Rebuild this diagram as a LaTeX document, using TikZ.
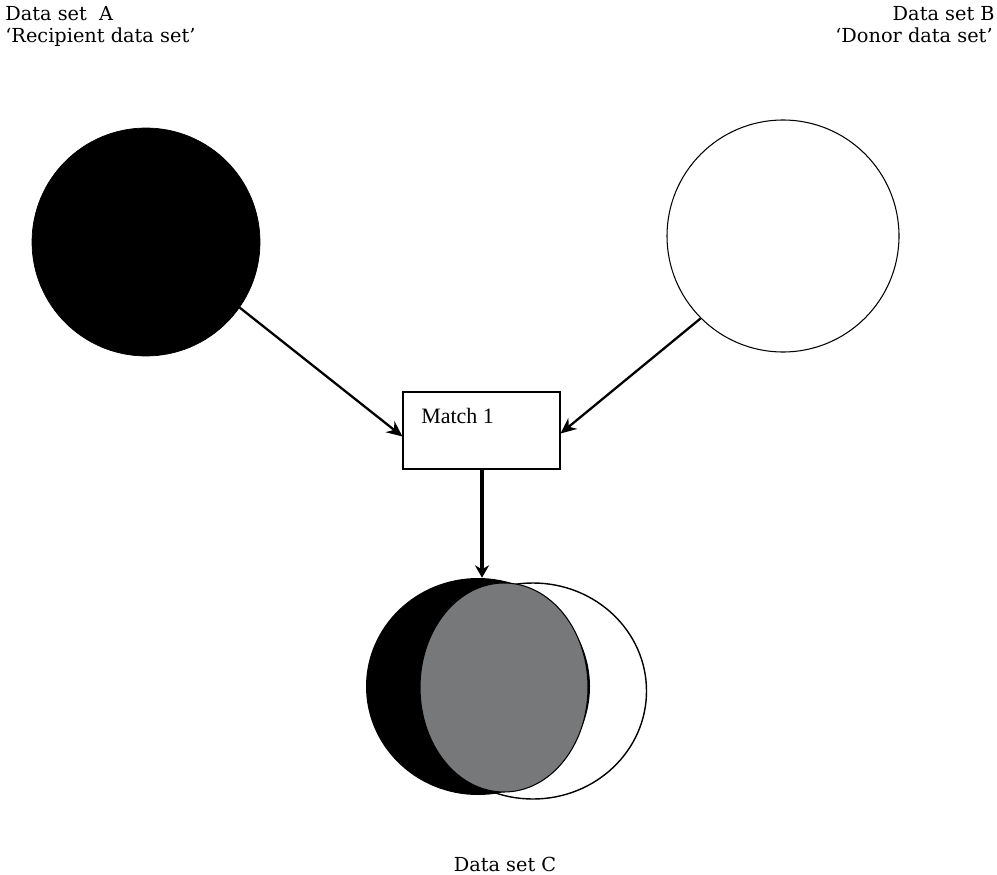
\documentclass[tikz,border=0pt]{standalone}
\usepackage{fontspec}
\setmainfont{DejaVu Serif}
\newfontfamily\matchfont{Liberation Serif}
\usetikzlibrary{arrows.meta,shapes.geometric}
\definecolor{midgray}{HTML}{76787A}
\tikzset{
  lbl/.style={inner sep=0pt, font=\fontsize{11}{13}\selectfont},
  setcircle/.style={circle, draw=black, inner sep=0pt, minimum size=#1*0.02cm},
  link/.style={draw=black, line width=1.3pt, -{Stealth[length=9pt, width=8pt]}},
  thicklink/.style={draw=black, line width=2.2pt, -{Stealth[length=7pt, width=8pt]}}
}
\begin{document}
\begin{tikzpicture}[x=0.02cm, y=-0.02cm]
\useasboundingbox (0,0) rectangle (997,875);
% titles
\node[lbl, anchor=base west] (tA1) at (5,21) {Data set~~A};
\node[lbl, anchor=base west] (tA2) at (5,43) {`Recipient data set'};
\node[lbl, anchor=base east] (tB1) at (995,21) {Data set B};
\node[lbl, anchor=base east] (tB2) at (993,43) {`Donor data set'};
\node[lbl, anchor=base] (tC) at (505,871) {Data set C};
% circles
\node[setcircle=228, fill=black] (A) at (146,242) {};
\node[setcircle=232, line width=0.6pt] (B) at (783,236) {};
% match box
\node[draw=black, line width=0.6pt, minimum width=157*0.02cm, minimum height=77*0.02cm, inner sep=0pt] (box) at (481.5,430.5) {};
\node[anchor=base west, inner sep=0pt, font=\matchfont\fontsize{12.5}{14}\selectfont] (mlabel) at (421,423) {Match 1};
% result sets
\node[ellipse, draw=black, line width=0.8pt, fill=white, inner sep=0pt, minimum width=227*0.02cm, minimum height=216*0.02cm] (D) at (533,691) {};
\node[ellipse, fill=black, inner sep=0pt, minimum width=224*0.02cm, minimum height=217*0.02cm] (C) at (478,686.5) {};
\node[ellipse, draw=black, line width=0.6pt, fill=midgray, inner sep=0pt, minimum width=168*0.02cm, minimum height=209*0.02cm] (G) at (504,687.5) {};
% connectors
\draw[link] (A.-35) -- ([yshift=-6*0.02cm]box.west);
\draw[link] (B.-135) -- ([yshift=-3*0.02cm]box.east);
\draw[thicklink] ([xshift=4*0.02cm]box.south -| C.north) -- ([xshift=4*0.02cm]C.north);
\end{tikzpicture}
\end{document}
